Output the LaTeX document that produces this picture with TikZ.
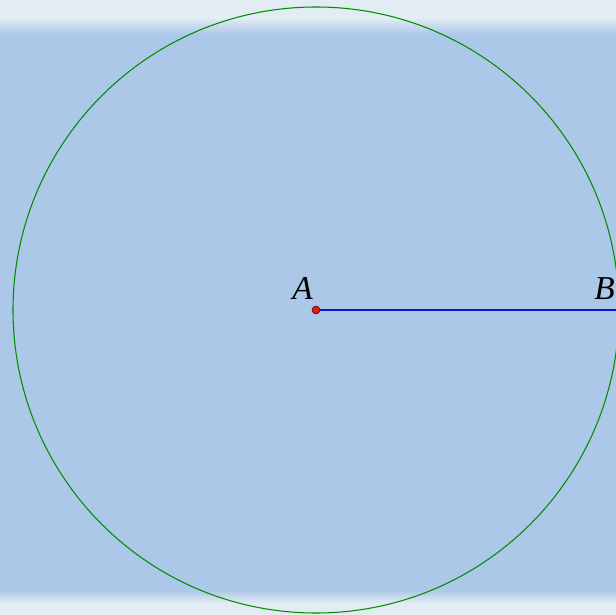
\documentclass[tikz,border=0pt]{standalone}
\usepackage{fontspec}
\setmainfont{Liberation Serif}
\usepackage{xcolor}
\usepackage{tikz}
\usetikzlibrary{positioning,calc}
\definecolor{paperBlue}{RGB}{172,200,232}
\definecolor{paperEdge}{RGB}{226,236,243}
\definecolor{ringGreen}{RGB}{0,140,0}
\definecolor{segBlue}{RGB}{20,20,190}
\definecolor{dotRed}{RGB}{220,30,20}

\begin{document}
\begin{tikzpicture}[
    x=0.02cm, y=-0.02cm,
    ring/.style={draw=ringGreen, line width=0.6pt},
    seg/.style={draw=segBlue, line width=0.6pt},
    dot/.style={circle, draw=black!70!red, fill=dotRed, line width=0.3pt, inner sep=0pt, minimum size=1.6mm},
    lbl/.style={font=\fontsize{19}{22}\selectfont\itshape, inner sep=0pt}
]
\useasboundingbox (0,0) rectangle (616,615);
\clip (0,0) rectangle (616,615);
% paper background
\fill[paperEdge] (0,0) rectangle (616,615);
\fill[top color=paperEdge, bottom color=paperBlue] (0,18) rectangle (616,34);
\fill[paperBlue] (0,34) rectangle (616,590);
\fill[top color=paperBlue, bottom color=paperEdge] (0,590) rectangle (616,603);
% circle and radius
\coordinate (A) at (316,310);
\coordinate (B) at (616,310);
\draw[ring] (A) circle[radius=303];
\draw[seg] (A) -- (B);
\node[dot] (Adot) at (A) {};
\node[lbl, anchor=south east] (Alabel) at (313,300) {A};
\node[lbl, anchor=south east] (Blabel) at (615,300) {B};
\end{tikzpicture}
\end{document}
